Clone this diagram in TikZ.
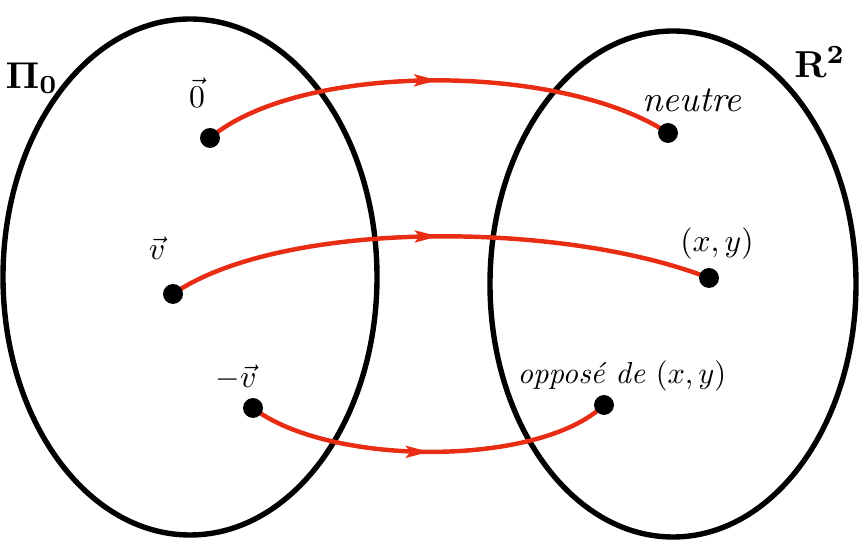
\documentclass[tikz,border=0pt]{standalone}
\usetikzlibrary{arrows.meta,decorations.markings}
\definecolor{pen}{RGB}{232,45,20}
\pgfdeclarelayer{back}
\pgfdeclarelayer{mid}
\pgfsetlayers{back,mid,main}
\begin{document}
\begin{tikzpicture}[x=0.03cm,y=0.03cm,
  setline/.style={line width=4.6pt,black},
  dot/.style={circle,fill=black,inner sep=0pt,minimum size=17pt},
  mapline/.style={line width=3.8pt,pen,
    postaction={decorate},
    decoration={markings,mark=at position #1 with {\arrow{Stealth[length=20pt,width=10pt,inset=4pt]}}}},
  lbl/.style={scale=2.7,inner sep=0.5pt},
  title/.style={scale=3.2,inner sep=0.5pt}]
\useasboundingbox (0,0) rectangle (859,540);
\begin{pgfonlayer}{back}
\draw[setline] (190,263) ellipse [x radius=187, y radius=258];
\draw[setline] (673,256) ellipse [x radius=183, y radius=253];
\end{pgfonlayer}
\node[title] (pi) at (32,462) {$\mathbf{\Pi}_{\mathbf{0}}$};
\node[title] (r2) at (820,478) {$\mathbf{R}^{\mathbf{2}}$};
\node[dot] (a1) at (210,402) {};
\node[dot] (b1) at (668,407) {};
\node[dot] (a2) at (173,246) {};
\node[dot] (b2) at (709,262) {};
\node[dot] (a3) at (253,132) {};
\node[dot] (b3) at (604,135) {};
\begin{pgfonlayer}{mid}
\draw[mapline=0.5] (a1.center) .. controls (300,478) and (560,478) .. (b1.center);
\draw[mapline=0.5] (a2.center) .. controls (280,320) and (560,320) .. (b2.center);
\draw[mapline=0.5] (a3.center) .. controls (330,73) and (540,73) .. (b3.center);
\end{pgfonlayer}
\node[lbl] (l0) at (197,447) {$\vec{0}$};
\node[lbl,scale=1.15] (ln) at (692,440) {\itshape neutre};
\node[lbl] (lv) at (157,292) {$\vec{v}$};
\node[lbl] (lxy) at (717,296) {$(x,y)$};
\node[lbl] (lmv) at (236,162) {$-\vec{v}$};
\node[lbl,scale=0.96] (lop) at (622,164) {\itshape oppos\'e de $(x,y)$};
\end{tikzpicture}
\end{document}
